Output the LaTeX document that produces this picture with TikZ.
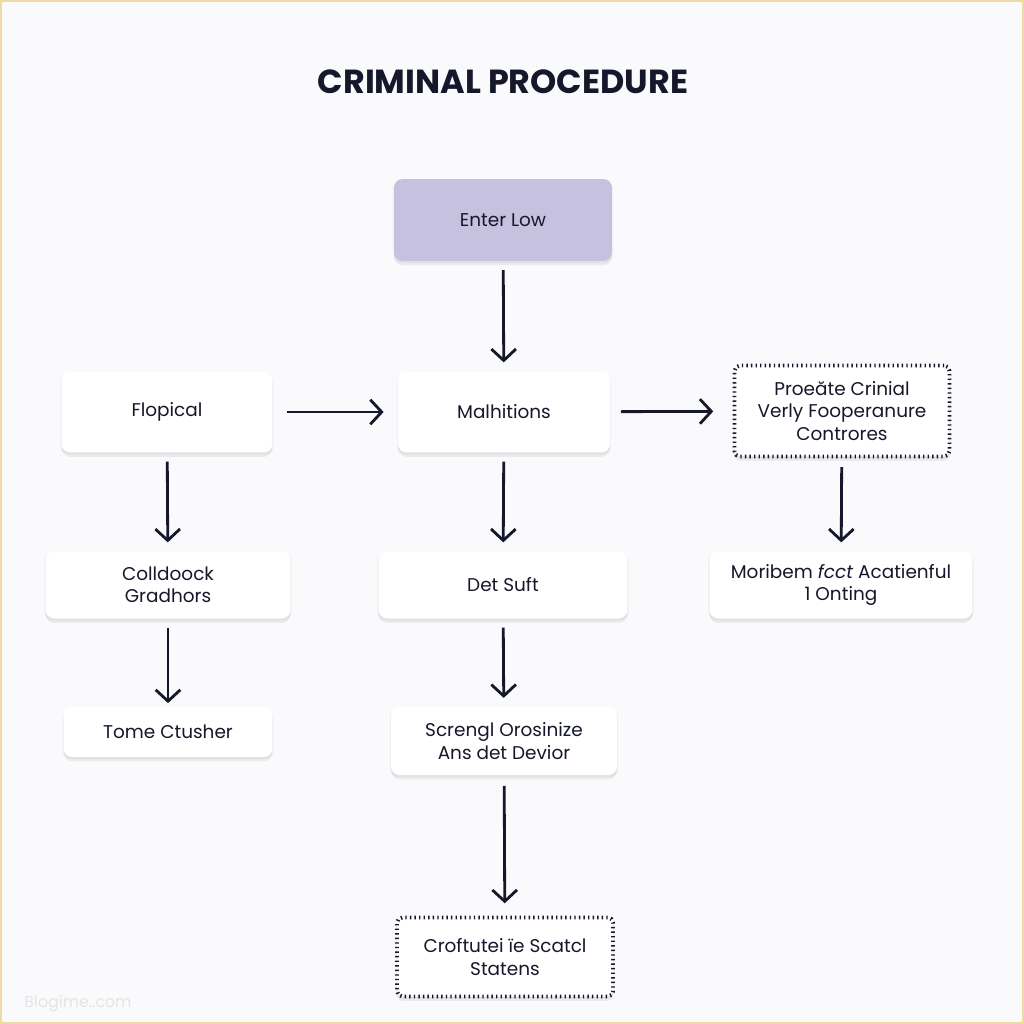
\documentclass[tikz,border=0pt]{standalone}
\usepackage{fontspec}
\setmainfont{Poppins}
\usetikzlibrary{positioning,arrows.meta,shadows}
\definecolor{ink}{HTML}{15172A}
\definecolor{lavender}{HTML}{C6C1DE}
\definecolor{paper}{HTML}{FAFAFC}
\definecolor{frame}{HTML}{F2D9A6}

\begin{document}
\begin{tikzpicture}
          [ x=0.02cm, y=-0.02cm,
            box/.style={
              rectangle,
              fill=white,
              rounded corners=5pt,
              align=center,
              text=ink,
              inner sep=0pt,
              font=\fontsize{10.5}{12.8}\selectfont,
              drop shadow={shadow xshift=0pt, shadow yshift=-2.5pt,
                fill=black, opacity=0.06},
              drop shadow={shadow xshift=0pt, shadow yshift=-1pt,
                shadow scale=1.01, fill=black, opacity=0.04}},
            dottedbox/.style={
              box,
              draw=ink,
              line width=2.2pt,
              dash pattern=on 0.8pt off 1.8pt,
              rounded corners=3pt},
            line/.style={
              draw=ink,
              line width=1.6pt,
              -{Straight Barb[length=6.5pt,width=14pt,line width=1.6pt]},
              shorten <=5pt,
              shorten >=5pt},
          ]

          \fill[paper] (0,0) rectangle (1024,1024);
          \draw[frame, line width=0.8pt] (1,1) rectangle (1023,1023);

          \node (title) at (503,82) [text=ink, font=\fontsize{19}{22}\selectfont\bfseries] {CRIMINAL PROCEDURE};

          \node (enter) at (503,220) [box, fill=lavender, minimum width=4.36cm, minimum height=1.64cm] {Enter Low};

          \node (flopical) at (167,412) [box, minimum width=4.22cm, minimum height=1.62cm] {Flopical};
          \node (malhitions) at (504,412) [box, minimum width=4.24cm, minimum height=1.62cm] {Malhitions};
          \node (proeate) at (842,411) [dottedbox, minimum width=4.3cm, minimum height=1.82cm] {Proeăte Crinial\\Verly Fooperanure\\Controres};

          \node (colldoock) at (168,585) [box, minimum width=4.9cm, minimum height=1.34cm] {Colldoock\\Gradhors};
          \node (detsuft) at (503,585) [box, minimum width=4.98cm, minimum height=1.34cm] {Det Suft};
          \node (moribem) at (841,585) [box, minimum width=5.26cm, minimum height=1.34cm] {Moribem \textit{fcct} Acatienful\\1 Onting};

          \node (tome) at (168,732) [box, minimum width=4.18cm, minimum height=1cm] {Tome Ctusher};
          \node (screngl) at (504,741) [box, minimum width=4.52cm, minimum height=1.36cm] {Screngl Orosinize\\Ans det Devior};

          \node (croftutel) at (505,957) [dottedbox, minimum width=4.32cm, minimum height=1.58cm] {Croftutei ïe Scatcl\\Statens};

          \node (mark) at (78,1004) [text=black!10, font=\fontsize{9}{10}\selectfont] {Blogime..com};

          \draw[line] (enter) -- (malhitions);
          \draw[line, shorten <=8pt, shorten >=8pt] (flopical) -- (malhitions);
          \draw[line, shorten <=6pt, shorten >=11pt] (malhitions) -- (proeate);
          \draw[line] (flopical) -- (colldoock);
          \draw[line, shorten >=2pt] (colldoock) -- (tome);
          \draw[line] (malhitions) -- (detsuft);
          \draw[line] (detsuft) -- (screngl);
          \draw[line] (proeate) -- (moribem);
          \draw[line, shorten <=6pt, shorten >=7pt] (screngl) -- (croftutel);

        \end{tikzpicture}
\end{document}
